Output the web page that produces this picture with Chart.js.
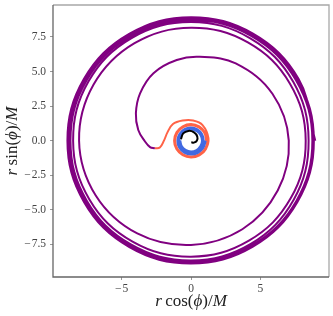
<!DOCTYPE html>
<html>
<head>
<meta charset="utf-8">
<script src="https://cdn.jsdelivr.net/npm/chart.js@4.4.0/dist/chart.umd.min.js"></script>
<style>
body { margin: 0; background: #fff; }
</style>
</head>
<body>
<canvas id="orbit" width="333" height="316"></canvas>
<script>
// values: angle phi in degrees, radius r/M
var purplePhi = [0, 30, 60, 90, 120, 150, 180, 210, 240, 270, 300, 330,
    360, 390, 420, 450, 480, 510, 540, 570, 600, 630, 660, 690,
    720, 750, 780, 810, 840, 870, 900, 930, 960, 990, 1020, 1050,
    1080, 1110, 1140, 1170, 1200, 1230, 1260, 1290, 1320, 1350, 1380, 1410,
    1440, 1470, 1500, 1530, 1560, 1590, 1620, 1650, 1680, 1710, 1740, 1770,
    1800, 1830, 1860, 1884, 1900, 1919, 1937, 1953.5, 1968.5, 1981, 1989, 1992];
var purpleR = [8.96, 8.95, 8.94, 8.93, 8.92, 8.92, 8.91, 8.90, 8.89, 8.88, 8.87, 8.86,
    8.86, 8.85, 8.84, 8.83, 8.82, 8.81, 8.80, 8.79, 8.78, 8.77, 8.76, 8.76,
    8.75, 8.74, 8.73, 8.72, 8.71, 8.70, 8.69, 8.68, 8.67, 8.66, 8.62, 8.55,
    8.48, 8.51, 8.55, 8.58, 8.57, 8.54, 8.50, 8.47, 8.43, 8.39, 8.35, 8.31,
    8.27, 8.24, 8.20, 8.17, 8.14, 8.11, 8.07, 7.93, 7.75, 7.54, 7.40, 7.22,
    7.05, 6.78, 6.45, 6.10, 5.92, 5.58, 5.02, 4.44, 3.88, 3.32, 2.99, 2.66];

var orangePhi = [191.9, 192.5, 180, 160.6, 137.3, 112.5, 84, 53.5, 8, -30, -60, -90,
    -120, -150, -180, -210, -240, -270, -300, -330, -360, -390, -420, -450,
    -480, -510, -540, -570, -600, -630, -660, -690, -720];
var orangeR = [2.66, 2.30, 1.95, 1.80, 1.77, 1.57, 1.46, 1.40, 1.27, 1.24, 1.22, 1.21,
    1.21, 1.22, 1.22, 1.21, 1.20, 1.20, 1.19, 1.18, 1.17, 1.16, 1.15, 1.15,
    1.14, 1.14, 1.13, 1.13, 1.12, 1.12, 1.11, 1.11, 1.10];

var bluePhi = [-720, -750, -780, -810, -840, -870, -900, -930, -960, -990, -1020, -1050,
    -1080, -1110, -1140, -1170, -1200, -1230, -1260, -1290, -1320, -1350, -1380, -1410,
    -1440, -1470, -1500, -1530, -1560, -1590, -1620];
var blueR = [1.06, 1.03, 1.01, 1.00, 0.99, 0.98, 0.97, 0.96, 0.95, 0.94, 0.93, 0.92,
    0.91, 0.90, 0.89, 0.88, 0.87, 0.86, 0.85, 0.84, 0.83, 0.82, 0.81, 0.80,
    0.80, 0.79, 0.79, 0.79, 0.78, 0.78, 0.78];

var blackPhi = [172, 137, 105, 70, 33, 0, -35, -80];
var blackR = [0.73, 0.77, 0.73, 0.64, 0.54, 0.42, 0.25, 0.12];

var xTicks = [-5, 0, 5];
var yTicks = [-7.5, -5, -2.5, 0, 2.5, 5, 7.5];

var xTitle = [["r", "italic"], ["\u2009cos(", "normal"], ["\u03d5", "italic"], [")/", "normal"], ["M", "italic"]];
var yTitle = [["r", "italic"], ["\u2009sin(", "normal"], ["\u03d5", "italic"], [")/", "normal"], ["M", "italic"]];

var serif = "'Liberation Serif', 'DejaVu Serif', serif";

// axes are r cos(phi) and r sin(phi)
function toPoints(phi, r){
    return phi.map((p, i) => {
        let a = p * Math.PI / 180;
        return {x: r[i] * Math.cos(a), y: r[i] * Math.sin(a)};
    });
}

function line(pts, color, w, order){
    return {
        data: pts,
        borderColor: color,
        borderWidth: w,
        pointRadius: 0,
        tension: 0.38,
        fill: false,
        order: order
    };
}

function xLabel(v){
    return String(v).replace("-", "\u2212\u200a");
}
function yLabel(v){
    return v.toFixed(1).replace("-", "\u2212\u200a");
}

function drawMath(ctx, parts, x, y, rot){
    let size = 17;
    let total = 0;
    parts.forEach(p => {
        ctx.font = p[1] + " " + size + "px " + serif;
        total += ctx.measureText(p[0]).width;
    });
    ctx.save();
    ctx.translate(x, y);
    ctx.rotate(rot);
    ctx.fillStyle = "#222";
    ctx.textBaseline = "middle";
    ctx.textAlign = "left";
    let cx = -total / 2;
    parts.forEach(p => {
        ctx.font = p[1] + " " + size + "px " + serif;
        ctx.fillText(p[0], cx, 0);
        cx += ctx.measureText(p[0]).width;
    });
    ctx.restore();
}

var frame = {
    id: 'frame',
    afterDraw(chart){
        let ctx = chart.ctx, a = chart.chartArea;
        ctx.save();
        ctx.lineWidth = 1.3;
        ctx.strokeStyle = "#a8a8a8";
        ctx.beginPath();
        ctx.moveTo(a.left, a.top);
        ctx.lineTo(a.right, a.top);
        ctx.lineTo(a.right, a.bottom);
        ctx.stroke();
        ctx.strokeStyle = "#666";
        ctx.beginPath();
        ctx.moveTo(a.left, a.top);
        ctx.lineTo(a.left, a.bottom);
        ctx.lineTo(a.right, a.bottom);
        ctx.stroke();
        ctx.restore();
        drawMath(ctx, xTitle, (a.left + a.right) / 2, 302, 0);
        drawMath(ctx, yTitle, 13, (a.top + a.bottom) / 2, -Math.PI / 2);
    }
};

var ctx = document.getElementById('orbit');
var myChart = new Chart(ctx, {
    type: 'line',
    data: {
        datasets: [
            line(toPoints(blackPhi, blackR), "#000000", 2, 0),
            line(toPoints(bluePhi, blueR), "#4169e1", 2.2, 1),
            line(toPoints(orangePhi, orangeR), "#ff6347", 2, 2),
            line(toPoints(purplePhi, purpleR), "#800080", 2, 3)
        ]
    },
    options: {
        responsive: false,
        animation: false,
        layout: { padding: { top: 5, right: 4, left: 0, bottom: 0 } },
        plugins: { legend: { display: false }, tooltip: { enabled: false } },
        scales: {
            x: {
                type: 'linear',
                min: -9.95,
                max: 9.95,
                afterBuildTicks: (s) => { s.ticks = xTicks.map(v => ({value: v})); },
                afterFit: (s) => { s.height = 39; s.paddingLeft = 0; s.paddingRight = 0; },
                grid: { drawOnChartArea: false, tickLength: 3, color: "#999" },
                border: { display: false },
                ticks: { callback: xLabel, color: "#444", padding: 2, maxRotation: 0,
                         font: { family: serif, size: 11.5 } }
            },
            y: {
                type: 'linear',
                min: -9.86,
                max: 9.81,
                afterBuildTicks: (s) => { s.ticks = yTicks.map(v => ({value: v})); },
                afterFit: (s) => { s.width = 53; s.paddingTop = 0; s.paddingBottom = 0; },
                grid: { drawOnChartArea: false, tickLength: 3, color: "#999" },
                border: { display: false },
                ticks: { callback: yLabel, color: "#444", padding: 4,
                         font: { family: serif, size: 11.5 } }
            }
        }
    },
    plugins: [frame]
});
</script>
</body>
</html>
